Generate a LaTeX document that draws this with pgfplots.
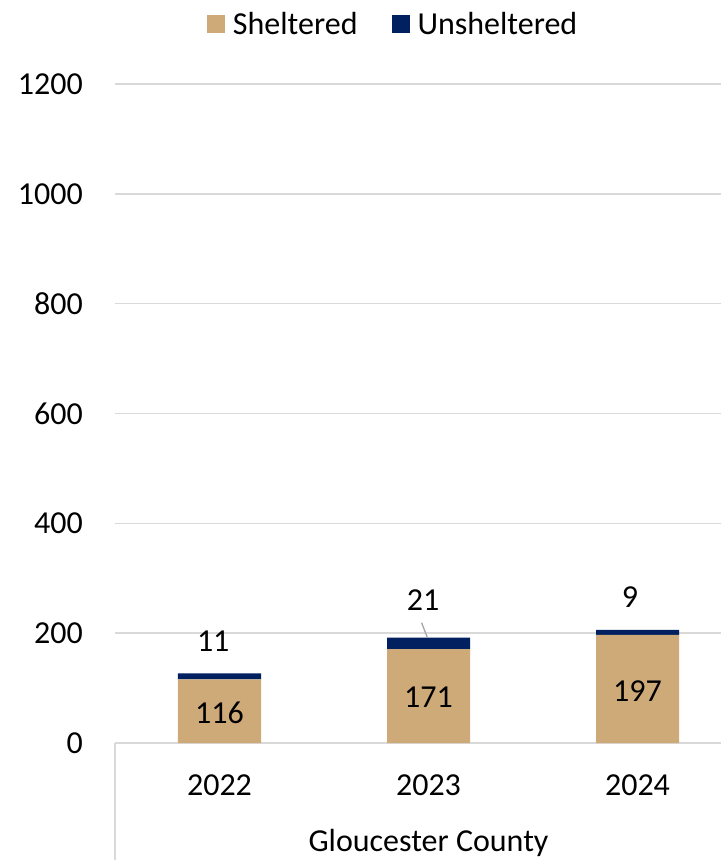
\documentclass[border=0pt]{standalone}
\usepackage{pgfplots}
\pgfplotsset{compat=1.18}
\usepackage{fontspec}
\setmainfont{Carlito}
\definecolor{tan}{RGB}{207,170,121}
\definecolor{navy}{RGB}{0,32,96}
\definecolor{gridgray}{RGB}{217,217,217}
\definecolor{leadgray}{RGB}{166,166,166}
\newcommand\f{\fontsize{32bp}{38bp}\selectfont}
\begin{document}
\begin{tikzpicture}
\begin{axis}[
  scale only axis,
  width=627bp, height=659bp,
  xmin=-0.5, xmax=2.5, ymin=0, ymax=1200,
  ybar stacked, bar width=83bp,
  clip=false,
  axis line style={draw=none},
  major tick length=0pt,
  xtick={0,1,2}, xticklabels={2022,2023,2024},
  ytick={0,200,...,1200},
  ymajorgrids,
  grid style={draw=gridgray, line width=1.5bp},
  /pgf/number format/assume math mode=true,
  /pgf/number format/1000 sep={},
  ticklabel style={font=\f, text=black},
  yticklabel style={anchor=east, inner sep=0pt, xshift=-32bp},
  xticklabel style={anchor=base, inner sep=0pt, yshift=-52bp},
  legend style={at={(rel axis cs:0.1467,1.0911)}, anchor=west, draw=none, fill=none,
    inner sep=0pt, outer sep=0pt, font=\f, legend columns=2,
    nodes={inner sep=0pt, anchor=west},
    /tikz/every odd column/.append style={column sep=8bp},
    /tikz/every even column/.append style={column sep=34bp}},
  legend cell align=left,
]
\addplot[fill=tan, draw=none, legend image code/.code={\fill[tan] (0bp,-9bp) rectangle (18bp,9bp);}]
  coordinates {(0,116) (1,171) (2,197)};
\addlegendentry{Sheltered}
\addplot[fill=navy, draw=none, legend image code/.code={\fill[navy] (0bp,-9bp) rectangle (18bp,9bp);}]
  coordinates {(0,11) (1,21) (2,9)};
\addlegendentry{Unsheltered}
% label positions (axis coordinates)
\coordinate (S0) at (axis cs:0,55.5);
\coordinate (S1) at (axis cs:1,83);
\coordinate (S2) at (axis cs:2,95);
\coordinate (U0) at (axis cs:-0.03,185.7);
\coordinate (U1) at (axis cs:0.974,260.4);
\coordinate (U2) at (axis cs:1.964,265.8);
\coordinate (LA) at (axis cs:0.967,219);
\coordinate (LB) at (axis cs:0.994,192.5);
% multi-level category separators and group label
\draw[gridgray, line width=1.5bp] (rel axis cs:0,0) -- ([yshift=-130bp]rel axis cs:0,0);
\draw[gridgray, line width=1.5bp] (rel axis cs:1,0) -- ([yshift=-130bp]rel axis cs:1,0);
\node[font=\f, anchor=base, inner sep=0pt] at ([yshift=-108bp]rel axis cs:0.5,0) {Gloucester County};
\coordinate (BL) at (rel axis cs:0,0);
\coordinate (TR) at (rel axis cs:1,1);
\end{axis}
\node[font=\f, inner sep=0pt] at (S0) {116};
\node[font=\f, inner sep=0pt] at (S1) {171};
\node[font=\f, inner sep=0pt] at (S2) {197};
\node[font=\f, inner sep=0pt] at (U0) {11};
\node[font=\f, inner sep=0pt] at (U1) {21};
\node[font=\f, inner sep=0pt] at (U2) {9};
\draw[leadgray, line width=1.3bp] (LA) -- (LB);
\pgfresetboundingbox
\path[use as bounding box] ([shift={(-115bp,-117bp)}]BL) rectangle ([shift={(-21bp,84bp)}]TR);
\end{tikzpicture}
\end{document}
